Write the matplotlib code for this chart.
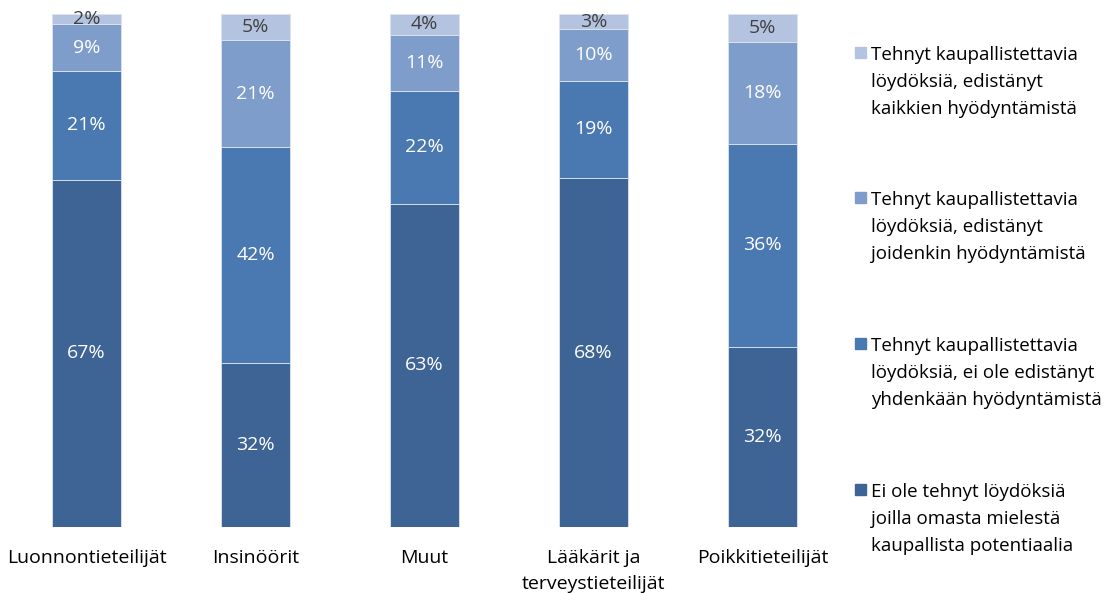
import numpy as np
import matplotlib.pyplot as plt
from matplotlib.patches import Rectangle

categories = ['Luonnontieteilijät', 'Insinöörit', 'Muut', 'Lääkärit ja\nterveystieteilijät', 'Poikkitieteilijät']
series_names = [
    'Ei ole tehnyt löydöksiä\njoilla omasta mielestä\nkaupallista potentiaalia',
    'Tehnyt kaupallistettavia\nlöydöksiä, ei ole edistänyt\nyhdenkään hyödyntämistä',
    'Tehnyt kaupallistettavia\nlöydöksiä, edistänyt\njoidenkin hyödyntämistä',
    'Tehnyt kaupallistettavia\nlöydöksiä, edistänyt\nkaikkien hyödyntämistä',
]
ei_loydoksia = [67, 32, 63, 68, 32]
ei_edistanyt = [21, 42, 22, 19, 36]
joidenkin = [9, 21, 11, 10, 18]
kaikkien = [2, 5, 4, 3, 5]

colors = ['#3E6496', '#4A78B0', '#7E9DCA', '#B4C4E0']
label_colors = ['white', 'white', 'white', '#404040']

plt.rcParams['font.family'] = ['Open Sans', 'DejaVu Sans']

fig = plt.figure(figsize=(11.09, 5.93), dpi=100)
ax = fig.add_axes([2 / 1109, 1 - 527 / 593, 845 / 1109, 513 / 593])

series = [ei_loydoksia, ei_edistanyt, joidenkin, kaikkien]
data = np.array(series, dtype=float)
totals = data.sum(axis=0)
shares = data / totals

x = np.arange(len(categories))
bottom = np.zeros(len(categories))
for i, vals in enumerate(shares):
    bars = ax.bar(x, vals, 0.41, bottom=bottom, color=colors[i],
                  edgecolor='#DCE4F0', linewidth=0.6)
    for j, b in enumerate(bars):
        ax.text(b.get_x() + b.get_width() / 2, bottom[j] + vals[j] / 2,
                f'{int(data[i, j])}%', ha='center', va='center',
                fontsize=14, color=label_colors[i])
    bottom += vals

ax.set_xlim(-0.5, 4.5)
ax.set_ylim(0, 1)
ax.set_xticks(x)
ax.set_xticklabels(categories, fontsize=14, linespacing=1.6)
ax.tick_params(axis='x', length=0, pad=15.5)
ax.set_yticks([])
for s in ax.spines.values():
    s.set_visible(False)

# legend drawn by hand so the square sits beside the first line
# (baseline of first line; text is anchored on its last line, 2 x 27 px lower)
legend_base = [60, 205, 351, 497]
for k, i in enumerate(range(3, -1, -1)):
    yb = legend_base[k]
    fig.patches.append(Rectangle((855 / 1109, 1 - (yb - 2) / 593), 11 / 1109, 11 / 593,
                                 transform=fig.transFigure, color=colors[i]))
    fig.text(871 / 1109, 1 - (yb + 54) / 593, series_names[i], ha='left', va='baseline',
             fontsize=13.5, linespacing=1.66, color='black')

fig.savefig('out.png', dpi=100)
